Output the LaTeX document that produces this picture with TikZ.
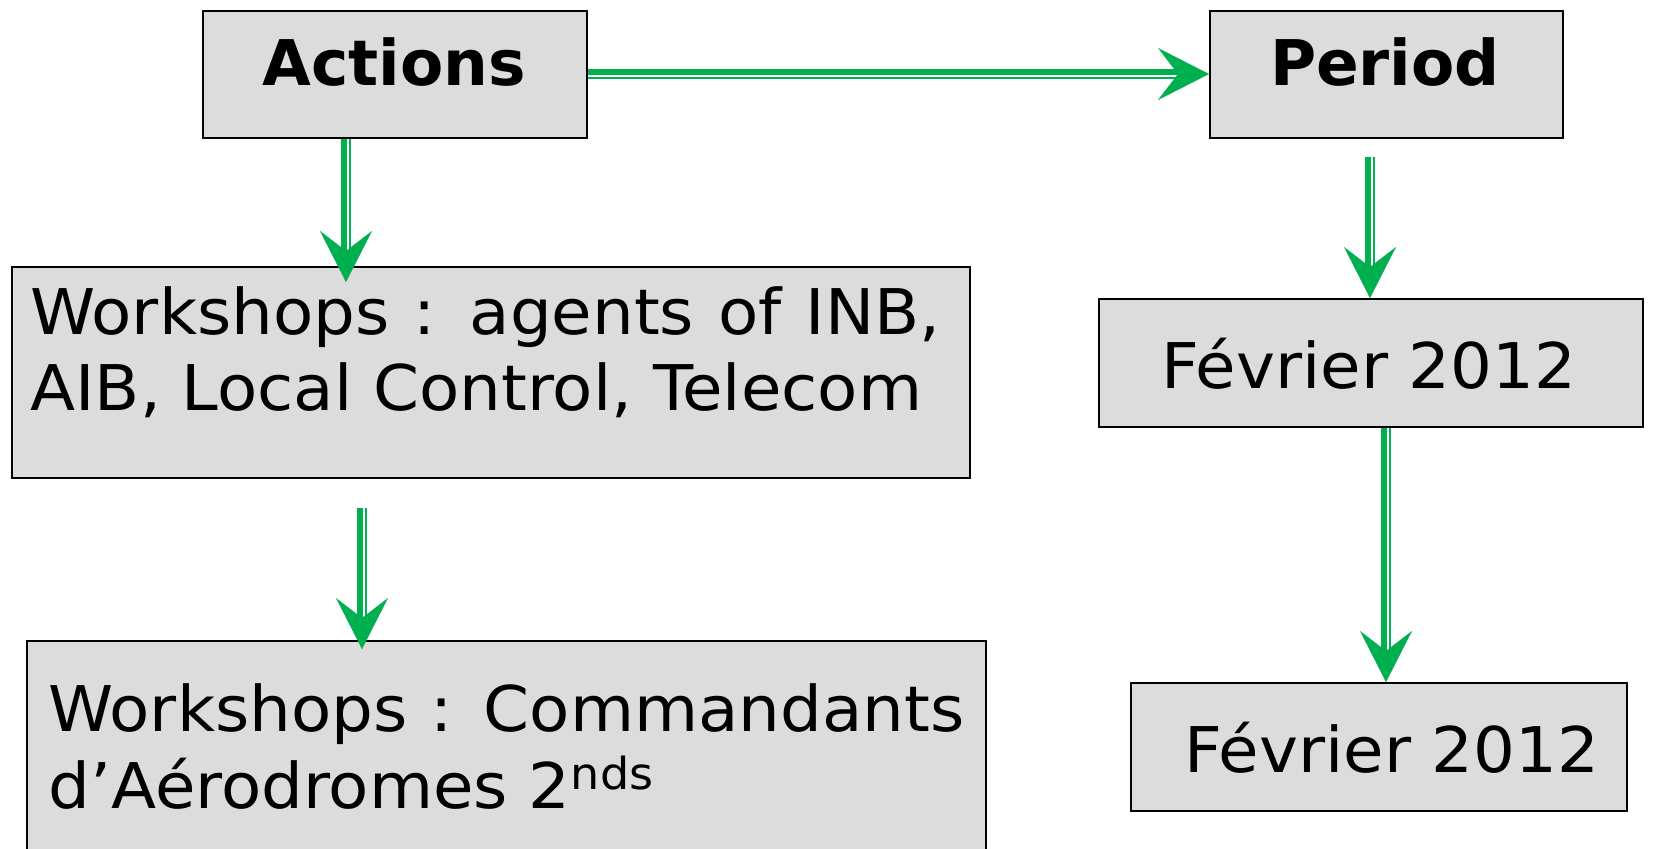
\documentclass[tikz,border=0pt]{standalone}
\usepackage{fontspec}
\setmainfont{DejaVu Sans}[FakeStretch=1.045]
\newfontfamily\hdfont{DejaVu Sans}
\usetikzlibrary{arrows.meta,calc}
\definecolor{boxgray}{RGB}{220,220,220}
\definecolor{pgreen}{RGB}{0,176,80}
\newcommand{\grnV}[2]{%
  \draw[gthick] ($(#1)+(-2,0)$) -- ($(#2)+(-2,-20)$);
  \draw[gthin] ($(#1)+(4,0)$) -- ($(#2)+(4,-20)$);
  \draw[ghead] ($(#2)+(0,-30)$) -- (#2);}
\newcommand{\grnH}[2]{%
  \draw[gthick] ($(#1)+(0,-2)$) -- ($(#2)+(-20,-2)$);
  \draw[gthin] ($(#1)+(0,4)$) -- ($(#2)+(-20,4)$);
  \draw[ghead] ($(#2)+(-30,0)$) -- (#2);}
\begin{document}
\begin{tikzpicture}[x=0.5pt,y=-0.5pt,
  box/.style={draw=black, line width=1pt, fill=boxgray, inner sep=0pt, anchor=north west},
  txt/.style={font=\fontsize{31.5}{37.5}\selectfont, inner sep=0pt, anchor=base},
  btxt/.style={font=\fontsize{31.5}{37.5}\selectfont\hdfont\bfseries, inner sep=0pt, anchor=base},
  gthick/.style={draw=pgreen, line width=3pt},
  gthin/.style={draw=pgreen, line width=1pt},
  ghead/.style={draw=pgreen, fill=pgreen, line width=0.1pt, -{Stealth[length=25.5pt,width=26pt,inset=10pt]}},
]
\useasboundingbox (0,0) rectangle (1656,848);
\clip (0,0) rectangle (1656,848);

% boxes
\node[box, minimum width=192pt, minimum height=63.5pt] (act) at (202,10) {};
\node[btxt] (actT) at (394,85) {Actions};
\node[box, minimum width=176.5pt, minimum height=63.5pt] (per) at (1209,10) {};
\node[btxt] (perT) at (1385,85) {Period};

\node[box, minimum width=479pt, minimum height=105.5pt] (w1) at (11,266) {};
\node[txt, anchor=base west] (w1a) at (30,334) {\hbox to 455pt{Workshops : agents of INB,}};
\node[txt, anchor=base west] (w1b) at (30,410) {AIB, Local Control, Telecom};

\node[box, minimum width=479.5pt, minimum height=130pt] (w2) at (26,640) {};
\node[txt, anchor=base west] (w2a) at (48,731) {\hbox to 458pt{Workshops : Commandants}};
\node[txt, anchor=base west] (w2b) at (48,808) {d’Aérodromes 2\textsuperscript{nds}};

\node[box, minimum width=272pt, minimum height=64pt] (f1) at (1098,298) {};
\node[txt] (f1T) at (1369,388) {Février 2012};
\node[box, minimum width=248pt, minimum height=64pt] (f2) at (1130,682) {};
\node[txt] (f2T) at (1392,772) {Février 2012};

% arrow guide positions
\coordinate (x1) at (346,0);
\coordinate (x3) at (362,0);
\coordinate (x4) at (1370,0);
\coordinate (x5) at (1386,0);
\coordinate (y2) at (0,74);

\coordinate (s1) at (act.south -| x1);
\coordinate (t1) at ($(w1.north -| x1)+(0,16)$);
\coordinate (s2) at (act.east |- y2);
\coordinate (t2) at (per.west |- y2);
\coordinate (s3) at ($(w1.south -| x3)+(0,29)$);
\coordinate (t3) at ($(w2.north -| x3)+(0,9)$);
\coordinate (s4) at ($(per.south -| x4)+(0,18)$);
\coordinate (t4) at (f1.north -| x4);
\coordinate (s5) at (f1.south -| x5);
\coordinate (t5) at (f2.north -| x5);

\grnV{s1}{t1}
\grnH{s2}{t2}
\grnV{s3}{t3}
\grnV{s4}{t4}
\grnV{s5}{t5}
\end{tikzpicture}
\end{document}
